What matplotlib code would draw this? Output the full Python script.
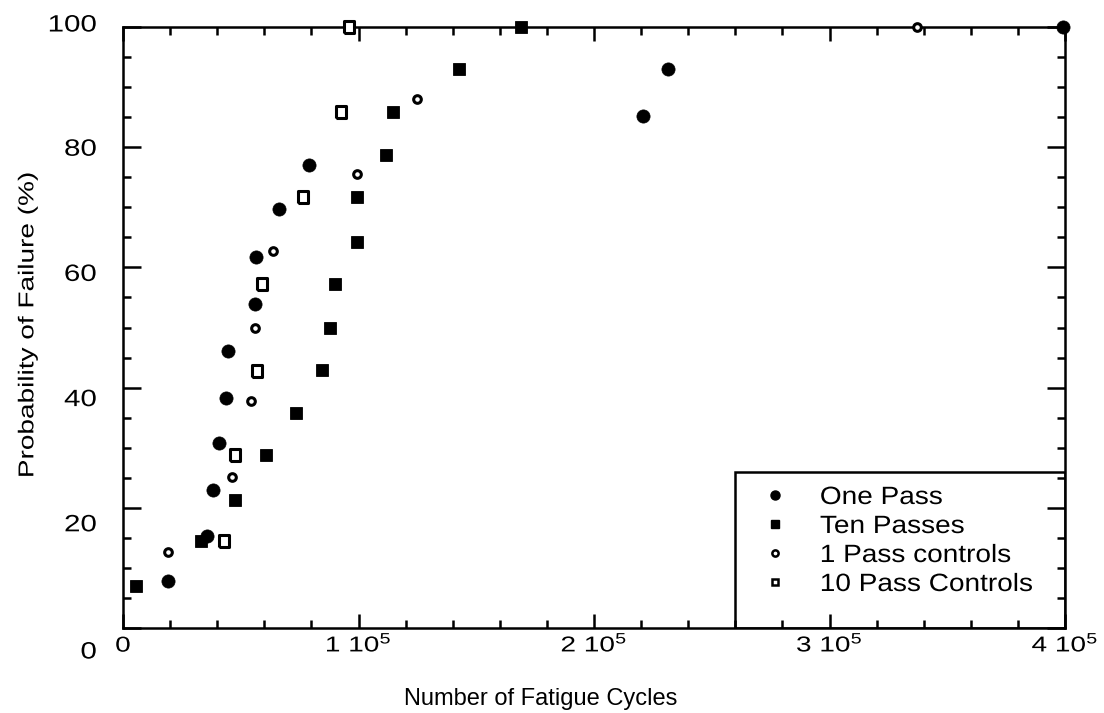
import matplotlib
matplotlib.use("Agg")
import matplotlib.pyplot as plt
from matplotlib.lines import Line2D
from matplotlib.patches import Rectangle
from matplotlib.patheffects import AbstractPathEffect
from matplotlib.transforms import Affine2D
from matplotlib.ticker import FixedLocator, MultipleLocator

# ---- data (cycles, % failure) ----
one_pass_x = [19200, 35600, 38300, 40800, 43700, 44600, 56100, 56500, 66200, 79000, 220800, 231400, 399000]
one_pass_y = [7.8, 15.3, 23.0, 30.8, 38.3, 46.1, 53.9, 61.7, 69.7, 77.0, 85.2, 93.0, 100]

ten_pass_x = [5500, 33100, 47600, 60700, 73500, 84500, 87900, 90000, 99400, 99400, 111700, 114600, 142700, 169000]
ten_pass_y = [7.0, 14.5, 21.3, 28.8, 35.8, 42.9, 49.9, 57.2, 64.2, 71.7, 78.7, 85.9, 93.0, 100]

ctrl1_x = [19200, 46300, 54200, 56100, 63700, 99400, 124800, 337000]
ctrl1_y = [12.6, 25.1, 37.8, 49.9, 62.7, 75.5, 88.0, 100]

ctrl10_x = [42900, 47600, 56900, 59000, 76400, 92600, 96000]
ctrl10_y = [14.5, 28.8, 42.8, 57.2, 71.7, 85.9, 100]

series_labels = ["One Pass", "Ten Passes", "1 Pass controls", "10 Pass Controls"]
xtick_vals = [0, 100000, 200000, 300000, 400000]
xtick_labels = ["0", r"1 10$^5$", r"2 10$^5$", r"3 10$^5$", r"4 10$^5$"]
ytick_vals = [0, 20, 40, 60, 80, 100]


class HStretch(AbstractPathEffect):
    """Stretch text glyphs along the text direction around an anchor."""
    def __init__(self, sx, anchor="center"):
        super().__init__()
        self.sx = sx
        self.anchor = anchor

    def draw_path(self, renderer, gc, tpath, affine, rgbFace=None):
        ext = tpath.get_extents()
        if self.anchor == "center":
            cx = (ext.x0 + ext.x1) / 2
        elif self.anchor == "right":
            cx = ext.x1
        else:
            cx = ext.x0
        t = Affine2D().translate(-cx, 0).scale(self.sx, 1).translate(cx, 0)
        renderer.draw_path(gc, tpath, t + affine, rgbFace)


plt.rcParams["font.family"] = ["Liberation Sans", "DejaVu Sans"]
plt.rcParams["mathtext.fontset"] = "custom"
plt.rcParams["mathtext.rm"] = "Liberation Sans"
plt.rcParams["mathtext.it"] = "Liberation Sans"
plt.rcParams["mathtext.default"] = "regular"

fig = plt.figure(figsize=(11.04, 7.13), dpi=100)
ax = fig.add_axes([123 / 1104, 1 - 628 / 713, 942 / 1104, 601 / 713])

ax.set_xlim(0, 400000)
ax.set_ylim(0, 100)

# markers
rect_marker = [(-0.85, -1), (0.85, -1), (0.85, 1), (-0.85, 1), (-0.85, -1)]
common = dict(linestyle="none", clip_on=False, zorder=4)
ax.plot(one_pass_x, one_pass_y, marker="o", ms=9.5, mfc="black", mec="black", mew=0.5, **common)
ax.plot(ten_pass_x, ten_pass_y, marker="s", ms=9, mfc="black", mec="black", mew=0.6, **common)
ax.plot(ctrl1_x, ctrl1_y, marker="o", ms=5.5, mfc="white", mec="black", mew=2.2, **common)
ax.plot(ctrl10_x, ctrl10_y, marker=rect_marker, ms=8.5, mfc="white", mec="black", mew=2.2, **common)

# spines & ticks
for sp in ax.spines.values():
    sp.set_linewidth(1.8)
ax.xaxis.set_major_locator(FixedLocator(xtick_vals))
ax.set_xticklabels(xtick_labels)
ax.xaxis.set_minor_locator(MultipleLocator(20000))
ax.yaxis.set_major_locator(FixedLocator(ytick_vals))
ax.yaxis.set_minor_locator(MultipleLocator(5))
ax.tick_params(axis="both", which="both", direction="in", top=True, right=True, width=1.8)
ax.tick_params(axis="x", which="major", length=10, labelsize=15.5, pad=17)
ax.tick_params(axis="x", which="minor", length=5.5)
ax.tick_params(axis="y", which="major", length=13, labelsize=17, pad=19)
ax.tick_params(axis="y", which="minor", length=6)

for lab in ax.get_xticklabels():
    lab.set_va("baseline")
    lab.set_path_effects([HStretch(1.3, "center")])
# the scanned labels drift slightly below their ticks toward the bottom
ylab_drift = [22, 15, 10, 5, 0, -4]
for lab, dy in zip(ax.get_yticklabels(), ylab_drift):
    lab.set_path_effects([HStretch(1.25, "right")])
    lab.set_transform(lab.get_transform() + Affine2D().translate(0, -dy))

# axis labels
ax.set_xlabel("Number of Fatigue Cycles", fontsize=17, va="baseline")
ax.xaxis.set_label_coords(0.443, -0.128)
ax.set_ylabel("Probability of Failure (%)", fontsize=15.5, va="center")
ax.yaxis.set_label_coords(-0.101, 0.504)
ax.yaxis.label.set_path_effects([HStretch(1.3, "center")])

# legend box
box = Rectangle((0.6497, 0), 0.3503, 0.2596, transform=ax.transAxes,
                facecolor="white", edgecolor="black", linewidth=1.8, zorder=1)
ax.add_patch(box)
handles = [
    Line2D([], [], linestyle="none", marker="o", ms=6.5, mfc="black", mec="black"),
    Line2D([], [], linestyle="none", marker="s", ms=6, mfc="black", mec="black"),
    Line2D([], [], linestyle="none", marker="o", ms=4.5, mfc="white", mec="black", mew=1.8),
    Line2D([], [], linestyle="none", marker="s", ms=5, mfc="white", mec="black", mew=1.8),
]
leg = ax.legend(handles, series_labels, loc="upper left",
                bbox_to_anchor=((762.5 - 123) / 942, (628 - 485) / 601),
                frameon=False, fontsize=18, borderpad=0, borderaxespad=0,
                handlelength=1.0, handletextpad=1.3, labelspacing=0.2)
for t in leg.get_texts():
    t.set_path_effects([HStretch(1.12, "left")])

fig.savefig("out.png", dpi=100)
